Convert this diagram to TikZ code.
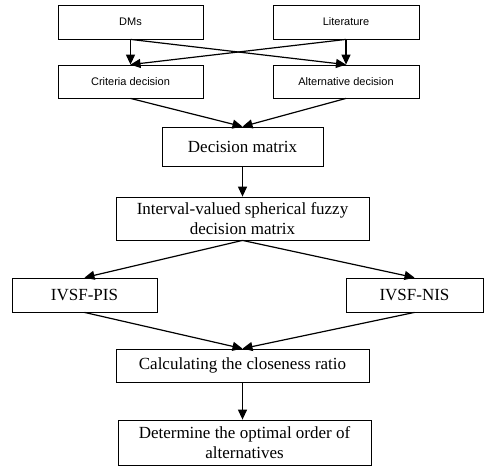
\documentclass[tikz,border=0pt]{standalone}
\usepackage{fontspec}
\setmainfont{Liberation Serif}
\newfontfamily\arialfont{Liberation Sans}
\usetikzlibrary{arrows.meta, calc}

\tikzset{
    box/.style={draw, line width=0.8pt, inner sep=1pt, align=center, font=\fontsize{17}{20}\selectfont},
    sbox/.style={box, font=\arialfont\fontsize{11}{13}\selectfont},
    arr/.style={-{Triangle[length=10pt, width=9pt]}, line width=1.2pt}
}

\begin{document}
\begin{tikzpicture}[x=1pt, y=-1pt]
        \useasboundingbox (0,0) rectangle (484,467);

        \node[sbox, minimum width=145pt, minimum height=34pt] (dms) at (130.5, 22) {DMs};
        \node[sbox, minimum width=146pt, minimum height=34pt] (lit) at (346, 22) {Literature};
        \node[sbox, minimum width=145pt, minimum height=33pt] (crit) at (130.5, 81.5) {Criteria decision};
        \node[sbox, minimum width=146pt, minimum height=33pt] (alt) at (346, 81.5) {Alternative decision};

        \node[box, minimum width=161pt, minimum height=39pt] (dm) at (242.5, 146.5) {Decision matrix};
        \node[box, minimum width=253pt, minimum height=43pt] (ivsf) at (242.5, 218.5) {Interval-valued spherical fuzzy\\decision matrix};

        \node[box, minimum width=145pt, minimum height=34pt] (pis) at (84.5, 295) {IVSF-PIS};
        \node[box, minimum width=137pt, minimum height=34pt] (nis) at (414.5, 295) {IVSF-NIS};

        \node[box, minimum width=253pt, minimum height=33pt] (calc) at (242.5, 365.5) {Calculating the closeness ratio};
        \node[box, minimum width=253pt, minimum height=45pt] (order) at (244.5, 442.5) {Determine the optimal order of\\alternatives};

        % sources
        \draw[arr] (dms.south) -- (crit.north);
        \draw[arr] (dms.south) -- (alt.north);
        \draw[arr] (lit.south) -- (alt.north);
        \draw[arr] (lit.south) -- (crit.north);

        \draw[arr] (crit.south) -- (dm.north);
        \draw[arr] (alt.south) -- (dm.north);
        \draw[arr] (dm.south) -- (ivsf.north);

        % ideal solutions
        \draw[arr] (ivsf.south) -- (pis.north);
        \draw[arr] (ivsf.south) -- (nis.north);
        \draw[arr] (pis.south) -- (calc.north);
        \draw[arr] (nis.south) -- (calc.north);

        \draw[arr] (calc.south) -- (calc.south |- order.north);
    \end{tikzpicture}
\end{document}
